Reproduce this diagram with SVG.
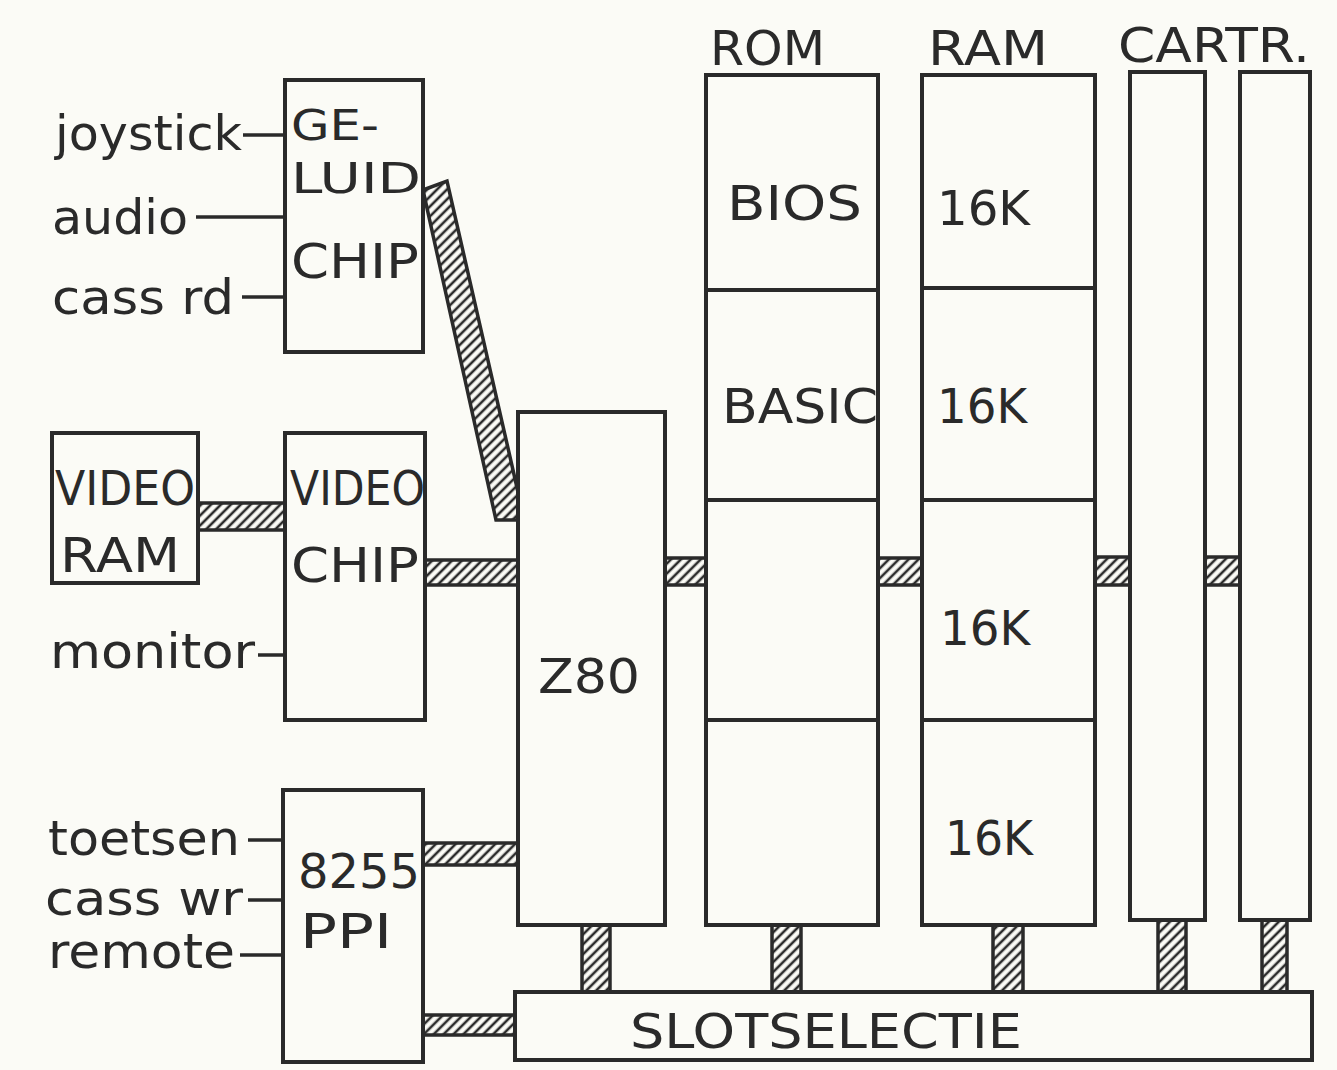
<svg xmlns="http://www.w3.org/2000/svg" width="1337" height="1070" viewBox="0 0 1337 1070">
<defs>
<pattern id="hatch" width="7" height="7" patternUnits="userSpaceOnUse" patternTransform="rotate(45)">
<rect width="7" height="7" fill="#fbfbf6"/>
<line x1="2" y1="0" x2="2" y2="7" stroke="#2a2a2a" stroke-width="2.6"/>
</pattern>
</defs>
<style>
.box{fill:#fbfbf6;stroke:#2a2a2a;stroke-width:4}
.div{stroke:#2a2a2a;stroke-width:4}
.bus{fill:url(#hatch);stroke:#2a2a2a;stroke-width:3.5}
.pin{stroke:#2a2a2a;stroke-width:3.5}
text{font-family:"DejaVu Sans","Liberation Sans",sans-serif;fill:#2a2a2a}
.lbl{font-size:48px}
.sm{font-size:42px}
.sig{font-size:48px}
</style>
<rect width="1337" height="1070" fill="#fbfbf6"/>

<g id="connectors">
<polygon class="bus" points="423,190 447,181 518,492 518,520 496,520"/>
<rect class="bus" x="198" y="503" width="87" height="27"/>
<rect class="bus" x="425" y="560" width="93" height="25"/>
<rect class="bus" x="665" y="558" width="41" height="27"/>
<rect class="bus" x="878" y="558" width="44" height="27"/>
<rect class="bus" x="1095" y="557" width="35" height="28"/>
<rect class="bus" x="1205" y="557" width="35" height="28"/>
<rect class="bus" x="423" y="843" width="95" height="22"/>
<rect class="bus" x="423" y="1015" width="92" height="20"/>
<rect class="bus" x="582" y="925" width="28" height="67"/>
<rect class="bus" x="772" y="925" width="29" height="67"/>
<rect class="bus" x="993" y="925" width="30" height="67"/>
<rect class="bus" x="1158" y="920" width="28" height="72"/>
<rect class="bus" x="1262" y="920" width="25" height="72"/>
<line class="pin" x1="243" y1="135" x2="285" y2="135"/>
<line class="pin" x1="196" y1="217" x2="285" y2="217"/>
<line class="pin" x1="242" y1="297" x2="285" y2="297"/>
<line class="pin" x1="258" y1="655" x2="285" y2="655"/>
<line class="pin" x1="248" y1="840" x2="283" y2="840"/>
<line class="pin" x1="248" y1="900" x2="283" y2="900"/>
<line class="pin" x1="240" y1="955" x2="283" y2="955"/>
</g>

<g id="inputs">
<text class="sig" x="55" y="150" textLength="187" lengthAdjust="spacingAndGlyphs">joystick</text>
<text class="sig" x="52" y="234" textLength="136" lengthAdjust="spacingAndGlyphs">audio</text>
<text class="sig" x="52" y="314" textLength="182" lengthAdjust="spacingAndGlyphs">cass rd</text>
<text class="sig" x="50" y="668" textLength="205" lengthAdjust="spacingAndGlyphs">monitor</text>
<text class="sig" x="48" y="855" textLength="192" lengthAdjust="spacingAndGlyphs">toetsen</text>
<text class="sig" x="45" y="915" textLength="198" lengthAdjust="spacingAndGlyphs">cass wr</text>
<text class="sig" x="48" y="968" textLength="187" lengthAdjust="spacingAndGlyphs">remote</text>
</g>

<g id="geluidchip">
<rect class="box" x="285" y="80" width="138" height="272"/>
<text class="sm" x="291" y="140" textLength="88" lengthAdjust="spacingAndGlyphs">GE-</text>
<text class="sm" x="291" y="193" textLength="130" lengthAdjust="spacingAndGlyphs">LUID</text>
<text class="lbl" x="291" y="278" textLength="128" lengthAdjust="spacingAndGlyphs">CHIP</text>
</g>

<g id="videoram">
<rect class="box" x="52" y="433" width="146" height="150"/>
<text class="lbl" x="55" y="505" textLength="140" lengthAdjust="spacingAndGlyphs">VIDEO</text>
<text class="lbl" x="60" y="572" textLength="120" lengthAdjust="spacingAndGlyphs">RAM</text>
</g>

<g id="videochip">
<rect class="box" x="285" y="433" width="140" height="287"/>
<text class="lbl" x="290" y="505" textLength="135" lengthAdjust="spacingAndGlyphs">VIDEO</text>
<text class="lbl" x="291" y="582" textLength="128" lengthAdjust="spacingAndGlyphs">CHIP</text>
</g>

<g id="ppi">
<rect class="box" x="283" y="790" width="140" height="272"/>
<text class="lbl" x="298" y="888" textLength="122" lengthAdjust="spacingAndGlyphs">8255</text>
<text class="lbl" x="300" y="948" textLength="92" lengthAdjust="spacingAndGlyphs">PPI</text>
</g>

<g id="z80">
<rect class="box" x="518" y="412" width="147" height="513"/>
<text class="lbl" x="538" y="693" textLength="102" lengthAdjust="spacingAndGlyphs">Z80</text>
</g>

<g id="rom">
<text class="lbl" x="710" y="65" textLength="115" lengthAdjust="spacingAndGlyphs">ROM</text>
<rect class="box" x="706" y="75" width="172" height="850"/>
<line class="div" x1="706" y1="290" x2="878" y2="290"/>
<line class="div" x1="706" y1="500" x2="878" y2="500"/>
<line class="div" x1="706" y1="720" x2="878" y2="720"/>
<text class="lbl" x="727" y="220" textLength="135" lengthAdjust="spacingAndGlyphs">BIOS</text>
<text class="lbl" x="722" y="423" textLength="156" lengthAdjust="spacingAndGlyphs">BASIC</text>
</g>

<g id="ram">
<text class="lbl" x="928" y="65" textLength="120" lengthAdjust="spacingAndGlyphs">RAM</text>
<rect class="box" x="922" y="75" width="173" height="850"/>
<line class="div" x1="922" y1="288" x2="1095" y2="288"/>
<line class="div" x1="922" y1="500" x2="1095" y2="500"/>
<line class="div" x1="922" y1="720" x2="1095" y2="720"/>
<text class="lbl" x="937" y="225" textLength="93" lengthAdjust="spacingAndGlyphs">16K</text>
<text class="lbl" x="937" y="423" textLength="90" lengthAdjust="spacingAndGlyphs">16K</text>
<text class="lbl" x="940" y="645" textLength="90" lengthAdjust="spacingAndGlyphs">16K</text>
<text class="lbl" x="945" y="855" textLength="88" lengthAdjust="spacingAndGlyphs">16K</text>
</g>

<g id="cartridges">
<text class="lbl" x="1118" y="62" textLength="192" lengthAdjust="spacingAndGlyphs">CARTR.</text>
<rect class="box" x="1130" y="72" width="75" height="848"/>
<rect class="box" x="1240" y="72" width="70" height="848"/>
</g>

<g id="slotselectie">
<rect class="box" x="515" y="992" width="797" height="68"/>
<text class="lbl" x="630" y="1048" textLength="392" lengthAdjust="spacingAndGlyphs">SLOTSELECTIE</text>
</g>
</svg>
